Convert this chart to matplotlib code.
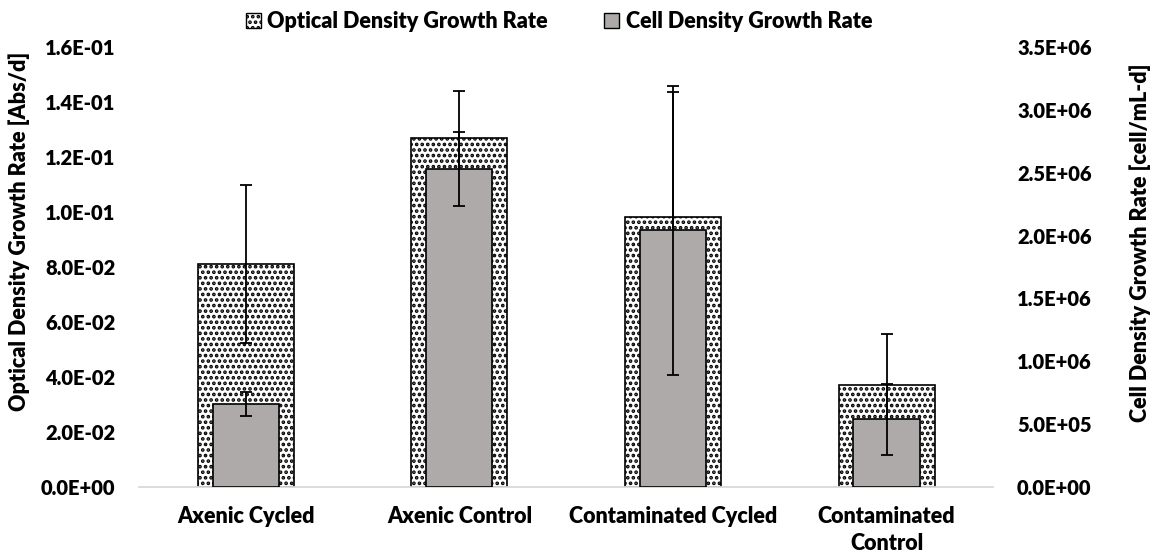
import numpy as np
import matplotlib.pyplot as plt
from matplotlib.patches import Patch
from matplotlib.ticker import FuncFormatter

plt.rcParams['font.family'] = ['Lato', 'DejaVu Sans']
plt.rcParams['font.weight'] = 'heavy'
plt.rcParams['hatch.linewidth'] = 1.8

categories = ['Axenic Cycled', 'Axenic Control', 'Contaminated Cycled', 'Contaminated\nControl']
od_rate = [0.081, 0.127, 0.0982, 0.0371]
od_err = [0.0287, 0.0171, 0.0456, 0.0185]
cell_rate = [0.660e6, 2.527e6, 2.042e6, 0.539e6]
cell_err = [0.094e6, 0.294e6, 1.151e6, 0.282e6]

gray = '#aeaaaa'
fs = 15.5
tick_fs = 14.5

fig = plt.figure(figsize=(11.55, 5.58), dpi=100)
ax = fig.add_axes([0.1203, 0.1272, 0.7398, 0.7885])
ax2 = ax.twinx()

x = np.arange(len(categories))

# optical density: wide dotted bars on the primary axis
ax.bar(x, od_rate, width=0.45, facecolor='white', edgecolor='black',
       hatch='...', linewidth=1.2, zorder=2)
ax.errorbar(x, od_rate, yerr=od_err, fmt='none', ecolor='black',
            elinewidth=1.3, capsize=4, capthick=1.3, zorder=3)

# cell density: narrower gray bars on the secondary axis
ax2.bar(x, cell_rate, width=0.31, facecolor=gray, edgecolor='black',
        linewidth=1.2, zorder=2)
ax2.errorbar(x, cell_rate, yerr=cell_err, fmt='none', ecolor='black',
             elinewidth=1.3, capsize=4, capthick=1.3, zorder=3)

ax.set_xlim(-0.5, 3.5)
ax.set_ylim(0, 0.16)
ax2.set_ylim(0, 3.5e6)
ax.set_yticks(np.arange(0, 0.161, 0.02))
ax2.set_yticks(np.arange(0, 3.51e6, 0.5e6))


def sci(v, pos):
    return f'{v:.1E}'


ax.yaxis.set_major_formatter(FuncFormatter(sci))
ax2.yaxis.set_major_formatter(FuncFormatter(sci))

ax.set_xticks(x)
ax.set_xticklabels(categories, fontsize=fs, linespacing=1.35)

for a in (ax, ax2):
    for s in a.spines.values():
        s.set_visible(False)
    a.tick_params(length=0)
ax.spines['bottom'].set_visible(True)
ax.spines['bottom'].set_color('#d9d9d9')
ax.spines['bottom'].set_linewidth(1.3)

ax.tick_params(axis='y', labelsize=tick_fs, pad=17)
ax2.tick_params(axis='y', labelsize=tick_fs, pad=17)
ax.tick_params(axis='x', pad=14)

fig.text(0.017, 0.585, 'Optical Density Growth Rate [Abs/d]', rotation=90,
         ha='center', va='center', fontsize=fs)
fig.text(0.987, 0.565, 'Cell Density Growth Rate [cell/mL-d]', rotation=90,
         ha='center', va='center', fontsize=fs)

handles = [Patch(facecolor='white', edgecolor='black', hatch='...', linewidth=1),
           Patch(facecolor=gray, edgecolor='black', linewidth=1)]
fig.legend(handles, ['Optical Density Growth Rate', 'Cell Density Growth Rate'],
           loc='center', bbox_to_anchor=(0.484, 0.962), ncol=2, frameon=False,
           fontsize=fs, handlelength=0.7, handleheight=0.7, handletextpad=0.3,
           columnspacing=2.6)

fig.savefig('out.png', dpi=100)
